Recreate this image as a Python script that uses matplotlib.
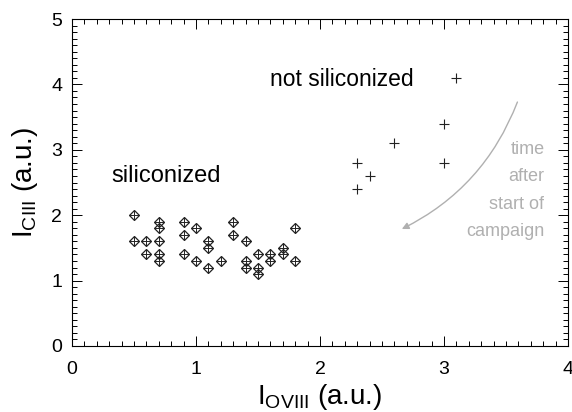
import matplotlib
matplotlib.use("Agg")
import matplotlib.pyplot as plt
from matplotlib.ticker import MultipleLocator

plt.rcParams['font.family'] = ['Liberation Sans', 'DejaVu Sans']
plt.rcParams['mathtext.fontset'] = 'custom'
plt.rcParams['mathtext.rm'] = 'Liberation Sans'

# siliconized (diamond with plus)
sil_x = [0.5, 0.7, 0.7, 0.9, 1.0, 0.5, 0.6, 0.7, 0.9, 0.6, 0.7, 0.7, 0.9, 1.0,
         1.1, 1.1, 1.3, 1.3, 1.4, 1.8, 1.1, 1.2, 1.4, 1.4, 1.5, 1.5, 1.5, 1.6,
         1.6, 1.7, 1.7, 1.8]
sil_y = [2.0, 1.9, 1.8, 1.9, 1.8, 1.6, 1.6, 1.6, 1.7, 1.4, 1.4, 1.3, 1.4, 1.3,
         1.6, 1.5, 1.9, 1.7, 1.6, 1.8, 1.2, 1.3, 1.3, 1.2, 1.4, 1.2, 1.1, 1.4,
         1.3, 1.5, 1.4, 1.3]

# not siliconized (plus)
ns_x = [3.1, 3.0, 2.6, 2.3, 3.0, 2.4, 2.3]
ns_y = [4.1, 3.4, 3.1, 2.8, 2.8, 2.6, 2.4]

fig = plt.figure(figsize=(5.72, 4.12), dpi=100)
ax = fig.add_axes([72/572, 66/412, 496/572, 327/412])

ax.plot(sil_x, sil_y, linestyle='none', marker='D', ms=5.2, mfc='none',
        mec='#222222', mew=0.9)
ax.plot(sil_x, sil_y, linestyle='none', marker='+', ms=7.2, mec='#222222', mew=0.7)
ax.plot(ns_x, ns_y, linestyle='none', marker='+', ms=7, mec='#222222', mew=0.8)

ax.text(0.32, 2.5, 'siliconized', fontsize=17, ha='left', va='baseline')
ax.text(1.6, 3.97, 'not siliconized', fontsize=16.5, ha='left', va='baseline')

gray = '#b0b0b0'
ax.text(3.81, 2.38, 'time\nafter\nstart of\ncampaign', fontsize=13, color=gray,
        ha='right', va='center', multialignment='right', linespacing=1.8)
ax.annotate('', xy=(2.64, 1.77), xytext=(3.60, 3.77),
            arrowprops=dict(arrowstyle='-|>', color=gray, lw=1.0,
                            mutation_scale=10,
                            connectionstyle='arc3,rad=-0.2'))

ax.set_xlim(0, 4)
ax.set_ylim(0, 5)
ax.xaxis.set_major_locator(MultipleLocator(1))
ax.xaxis.set_minor_locator(MultipleLocator(0.1))
ax.yaxis.set_major_locator(MultipleLocator(1))
ax.yaxis.set_minor_locator(MultipleLocator(0.1))
ax.tick_params(which='both', direction='in', top=True, right=True, width=0.7)
ax.tick_params(which='major', length=7, labelsize=14)
ax.tick_params(axis='x', which='major', pad=11)
ax.tick_params(axis='y', which='major', pad=7)
ax.tick_params(which='minor', length=3.5)
for s in ax.spines.values():
    s.set_linewidth(0.8)

ax.set_xlabel(r'I$_{\mathrm{OVIII}}$ (a.u.)', fontsize=20, labelpad=3)
ax.set_ylabel(r'I$_{\mathrm{CIII}}$ (a.u.)', fontsize=20, labelpad=8)

fig.savefig('out.png', dpi=100)
